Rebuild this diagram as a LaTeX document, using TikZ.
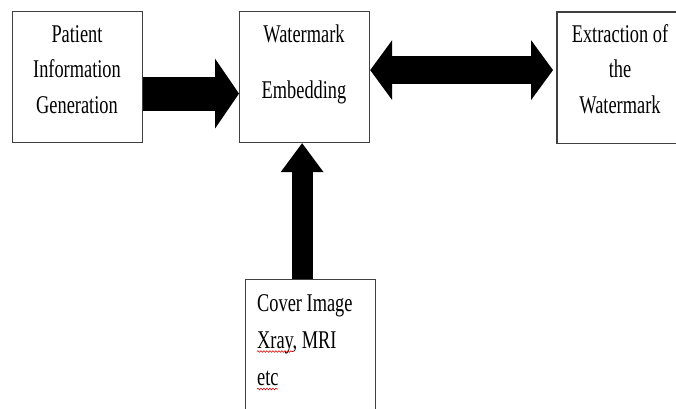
\documentclass[tikz,border=0pt]{standalone}
\usepackage{fontspec}
\setmainfont[FakeStretch=0.72]{Liberation Serif}
\usetikzlibrary{arrows.meta,decorations.pathmorphing}

\begin{document}
\begin{tikzpicture}[x=1pt,y=-1pt,
  boxline/.style={draw=black!75, line width=1.2pt},
  box/.style={boxline, fill=white, inner sep=0pt,
    anchor=north west, minimum width=130pt},
  lbl/.style={inner sep=0pt, font=\fontsize{25.5}{35.5}\selectfont},
  fatarrow/.style={draw=black, line width=#1},
  spell/.style={draw=red!85!black, line width=0.6pt,
    decorate, decoration={snake, amplitude=0.8pt, segment length=3pt}}]
\useasboundingbox (0,0) rectangle (676,408);
\clip (0,0) rectangle (676,408);

% the four blocks
\node[box, minimum height=131pt] (pig) at (12,11) {};
\node[box, minimum height=131pt] (wme) at (239,11) {};
\node[box, draw=none, minimum height=130pt] (ext) at (557,12) {};
\draw[boxline, line cap=rect] (ext.north east) -- (ext.north west)
  -- (ext.south west) -- (ext.south east);
\node[box, minimum height=140pt] (cov) at (245,279) {};

% block captions
\node[lbl, anchor=base] (pigtxt) at (77,42)
  {\begin{tabular}[t]{@{}c@{}}Patient\\Information\\Generation\end{tabular}};
\node[lbl, anchor=base] (wmetxt) at (304,42)
  {\begin{tabular}[t]{@{}c@{}}Watermark\\[20.5pt]Embedding\end{tabular}};
\node[lbl, anchor=base] (exttxt) at (620,42)
  {\begin{tabular}[t]{@{}c@{}}Extraction of\\the\\Watermark\end{tabular}};
\node[lbl, anchor=base west, font=\fontsize{25.5}{37}\selectfont] (covtxt) at (257,311)
  {\begin{tabular}[t]{@{}l@{}}Cover Image\\Xray, MRI\\etc\end{tabular}};

% spell-check underlines
\draw[spell] (257,351.5) -- (293,351.5);
\draw[spell] (257,389) -- (278,389);

% block arrows
\draw[fatarrow=34pt, -{Triangle[length=24pt, width=70pt, line width=0pt]}]
  ([yshift=-16.5pt]pig.east) -- ([yshift=-16.5pt]pig.east -| wme.west);
\draw[fatarrow=28pt, {Triangle[length=22pt, width=60pt, line width=0pt]}-{Triangle[length=22pt, width=60pt, line width=0pt]},
  shorten >=4pt]
  ([yshift=7pt]wme.east) -- ([yshift=7pt]wme.east -| ext.west);
\draw[fatarrow=21pt, -{Triangle[length=29pt, width=43pt, line width=0pt]}]
  ([xshift=-8.5pt]cov.north) -- ([xshift=-8.5pt]cov.north |- wme.south);
\end{tikzpicture}
\end{document}
